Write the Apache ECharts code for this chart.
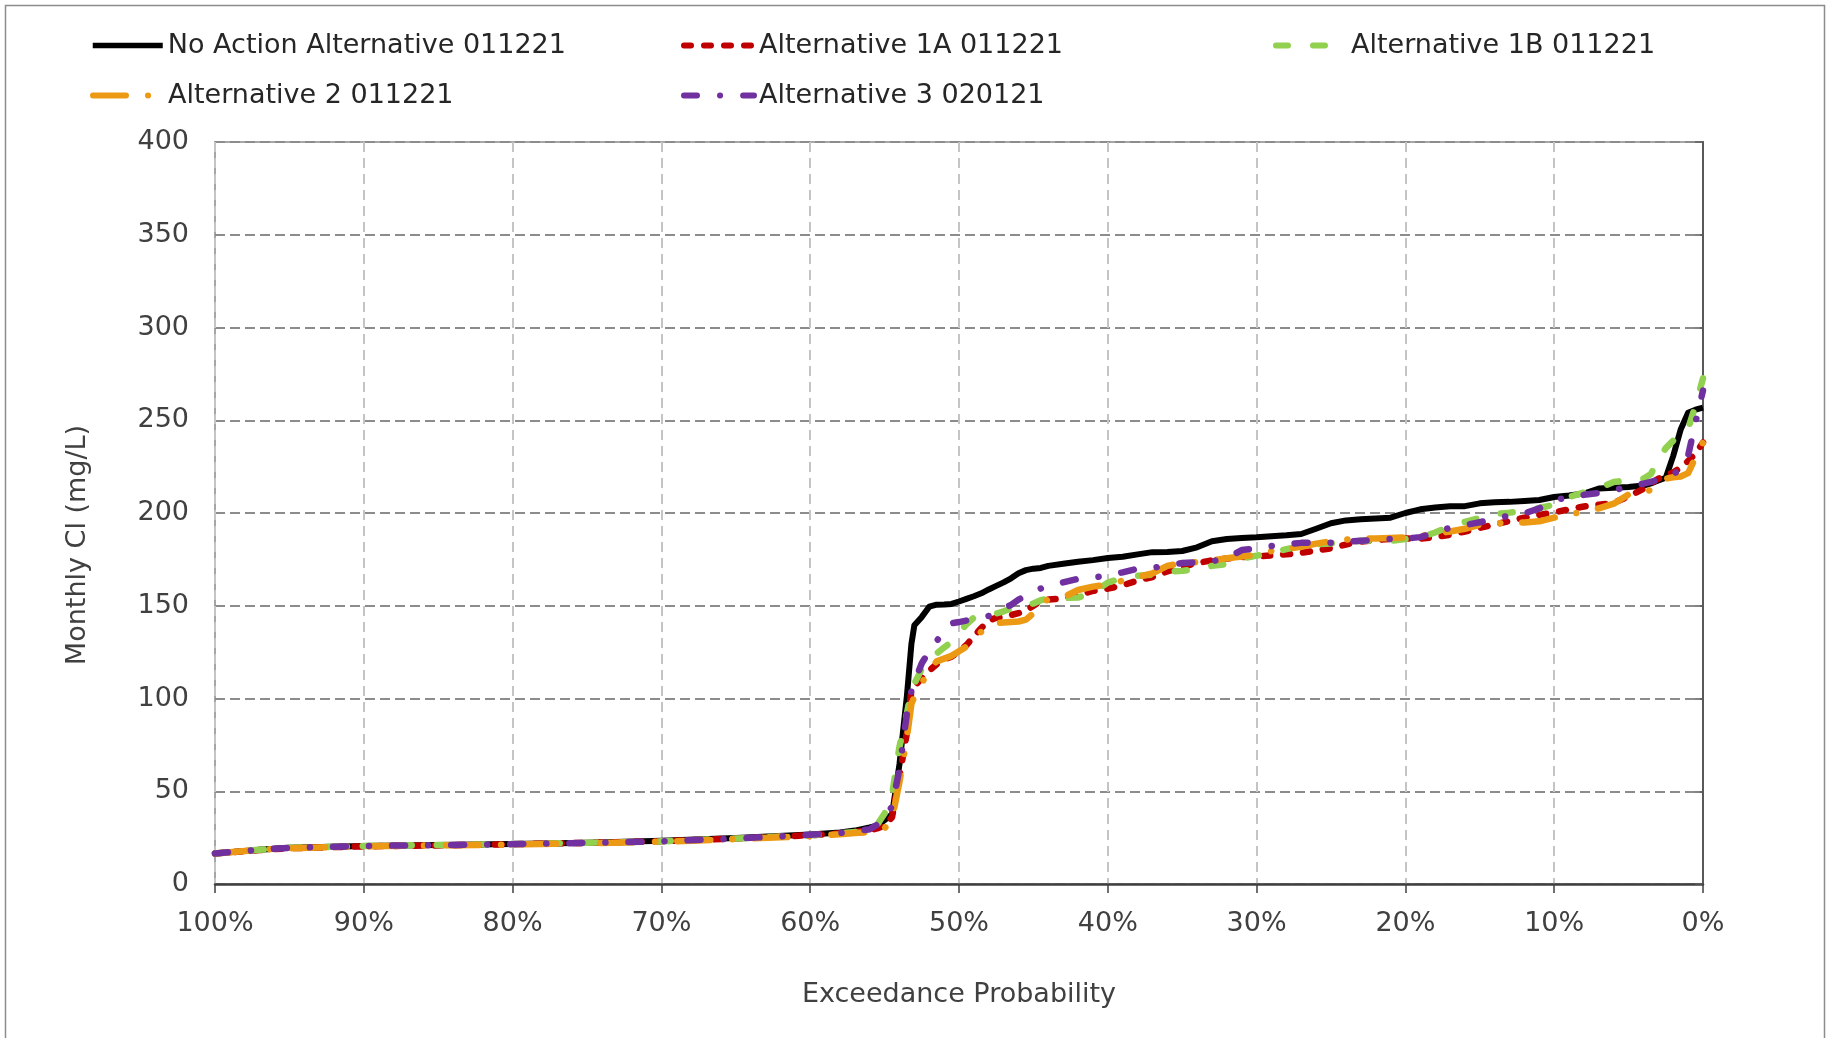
<!DOCTYPE html>
<html>
<head>
<meta charset="utf-8">
<script src="https://cdn.jsdelivr.net/npm/echarts@6/dist/echarts.min.js"></script>
<style>
html,body{margin:0;padding:0;background:#fff;}
#chart{width:1834px;height:1038px;}
</style>
</head>
<body>
<div id="chart"></div>
<script>
const seriesNames = ['No Action Alternative 011221','Alternative 1A 011221','Alternative 1B 011221','Alternative 2 011221','Alternative 3 020121'];
const xTickLabels = ['0%','10%','20%','30%','40%','50%','60%','70%','80%','90%','100%'];
const probability = [100, 97, 95, 90, 85, 80, 75, 70, 65, 60,
  58, 57, 56, 55.5, 55, 54.5, 54, 53.5, 53.2, 53,
  52.5, 52, 51.5, 51, 50.5, 50, 49.5, 49, 48.5, 48,
  47.5, 47, 46.5, 46, 45.5, 45, 44.5, 44,
  43, 42, 41, 40, 39, 38, 37, 36, 35, 34,
  33, 32, 31, 30, 29, 28, 27, 26, 25, 24,
  23, 22, 21, 20, 19, 18, 17, 16, 15, 14,
  13, 12, 11, 10, 9, 8, 7, 6, 5, 4,
  3.5, 3, 2.5, 2, 1.5, 1, 0.5, 0];
const noAction = [16.5, 18.5, 19.5, 20.5, 21, 21.6, 22.3, 23.3, 24.8, 26.7,
  27.8, 28.8, 30.5, 31.5, 34.5, 37.5, 64.6, 101.5, 129.3, 139.5,
  144, 149.5, 150.6, 150.7, 151, 152.3, 153.7, 155.1, 156.7, 158.8,
  160.7, 162.6, 164.8, 167.5, 169.2, 170, 170.4, 171.5,
  172.6, 173.7, 174.6, 175.7, 176.4, 177.7, 178.9, 179, 179.5, 181.5,
  184.8, 186, 186.5, 186.9, 187.5, 188, 188.7, 191.5, 194.5, 196,
  196.6, 197, 197.5, 200, 202, 203, 203.7, 203.7, 205.2, 205.8,
  206, 206.5, 207, 208.6, 209.4, 210.5, 213.2, 213.6, 214, 214.8,
  216, 217.5, 219, 230.8, 245, 254, 255.7, 256.8];
const alt1A = [16.5, 18.3, 19.3, 20.3, 20.8, 21.4, 22.2, 23, 24.5, 26.3,
  27.3, 28, 29, 30, 31.5, 36, 58, 81.6, 104.5, 106.5,
  111, 115, 118.5, 121, 122.5, 125.5, 128.8, 133.5, 138, 142,
  143.5, 144, 145, 146, 147.5, 150, 152.5, 153.4,
  153.8, 155.5, 158, 159.2, 161, 163.6, 165.5, 168.5, 171, 173,
  174.5, 175.5, 176.2, 176.7, 177.1, 177.7, 178.6, 179.7, 181, 183,
  184.6, 185.4, 186, 186.2, 186.2, 187, 188.3, 190, 192, 193.8,
  195.7, 197.5, 199, 200.3, 202, 203.5, 204.5, 205.4, 209, 213,
  216, 218.5, 220.3, 221.8, 224.5, 228, 232, 238];
const alt1B = [16.5, 18.5, 19.5, 20.5, 21, 21.5, 22.2, 23, 24.5, 26.3,
  27.3, 28, 29.5, 32, 38, 48, 74, 92, 104.5, 108,
  116, 120.5, 124.3, 127.5, 130.5, 135.5, 140, 143.6, 144.5, 145.2,
  145.8, 147, 148.5, 149.5, 150.5, 151.2, 153, 153.8,
  154.2, 154.4, 157, 162.5, 165, 166.1, 166.8, 168.5, 168.8, 170,
  171.5, 172.5, 175.5, 177, 178.5, 180.5, 182.2, 183.2, 183.6, 184.2,
  185, 185, 185, 186, 186.8, 189.5, 192.8, 195.2, 197.4, 199.5,
  200.2, 201.3, 202.7, 204.5, 208.7, 211, 213.5, 216.7, 217.8, 218.5,
  221, 229, 235, 239, 241, 245.5, 258, 272.6];
const alt2 = [16.5, 18.5, 19.3, 20.3, 20.8, 21.3, 22, 22.8, 24.2, 25.8,
  26.8, 27.5, 28, 28.5, 30, 35, 55, 79, 97, 101,
  108, 116, 120, 121.5, 123, 125.5, 128, 132, 136, 139.5,
  140.7, 141, 141.3, 141.5, 142.5, 146, 151, 153.5,
  154.5, 158.5, 160.3, 161.5, 163.5, 165.5, 167.5, 171.5, 173, 173.5,
  174.4, 175.6, 176.6, 177.5, 179.5, 180.7, 181.8, 183.5, 184.8, 185.6,
  186.2, 186.2, 186.5, 186.8, 187.6, 188.8, 190, 191.5, 193.7, 194.4,
  194.7, 194.9, 195.5, 197.5, 199.2, 200.8, 202.5, 205, 210, 211.5,
  212.3, 215, 218.5, 219.3, 219.7, 221.5, 230, 238];
const alt3 = [16.5, 18.5, 19.5, 20.5, 21, 21.5, 22.2, 23, 24.5, 26.5,
  27.5, 28.3, 29.5, 32, 35, 42, 62, 92, 104, 109,
  119, 125.5, 131, 136, 140.5, 141.2, 142, 142.7, 143.3, 144.5,
  146.3, 148.5, 150.5, 153.3, 155.5, 157.6, 159.3, 160.6,
  162.6, 164.5, 165.2, 166.3, 168, 170, 170.3, 172, 173, 173.4,
  174, 175.5, 180, 181, 182.2, 183.2, 183.9, 183.9, 184, 184.4,
  185, 185.5, 186, 186.2, 187, 189.5, 192, 193.5, 195, 197.2,
  198.5, 199.8, 202.5, 206.7, 208.8, 209.8, 210.8, 212.2, 214.5, 215.8,
  216.8, 218, 219.5, 221, 223.5, 231, 249, 266];

const valueSets = [noAction, alt1A, alt1B, alt2, alt3];
const colors = ['#000000', '#C00000', '#92D050', '#EC9A14', '#7030A0'];
const dashes = ['solid', [7, 13], [12, 25], [33, 22, 0.1, 22], [13, 23, 0.1, 23]];
const widths = [6, 6.5, 6.5, 6.5, 6.5];
const legendWidths = [5.5, 6, 6, 6, 6];

const FONT = 'DejaVu Sans';
const chart = echarts.init(document.getElementById('chart'));

const series = seriesNames.map((name, i) => ({
  name: name,
  type: 'line',
  symbol: 'none',
  showSymbol: false,
  data: probability.map((p, k) => [p, valueSets[i][k]]),
  lineStyle: { color: colors[i], width: widths[i], type: dashes[i], cap: i === 0 ? 'butt' : 'round', join: 'round' },
  itemStyle: { color: colors[i] },
  emphasis: { disabled: true },
  z: 2 + i
}));

const legendPos = [[90, 32], [681, 32], [1273, 32], [90, 82], [681, 82]];
const legends = seriesNames.map((name, i) => ({
  data: [name],
  left: legendPos[i][0],
  top: legendPos[i][1],
  padding: 0,
  itemWidth: 70,
  itemHeight: 14,
  itemStyle: { opacity: 0, borderWidth: 0 },
  lineStyle: { color: colors[i], width: legendWidths[i], type: dashes[i], cap: i === 0 ? 'butt' : 'round', opacity: 1 },
  textStyle: { fontFamily: FONT, fontSize: 27, color: '#262626' },
  selectedMode: false
}));

chart.setOption({
  animation: false,
  backgroundColor: '#ffffff',
  legend: legends,
  graphic: [{
    type: 'rect', shape: { x: 5.5, y: 5.5, width: 1819, height: 1045 },
    style: { fill: 'none', stroke: '#8c8c8c', lineWidth: 1.5 }, silent: true, z: -10
  }],
  grid: { left: 215, top: 142, right: 131, bottom: 154, show: true, borderColor: '#a6a6a6', borderWidth: 2, backgroundColor: 'transparent' },
  xAxis: {
    type: 'value', min: 0, max: 100, interval: 10, inverse: true,
    name: 'Exceedance Probability', nameLocation: 'middle', nameGap: 97,
    nameTextStyle: { fontFamily: FONT, fontSize: 27, color: '#404040' },
    axisLine: { show: true, lineStyle: { color: '#404040', width: 2.5 } },
    axisTick: { show: true, length: 9, lineStyle: { color: '#404040', width: 1.5 } },
    axisLabel: { margin: 26, fontFamily: FONT, fontSize: 27, color: '#404040',
      formatter: v => xTickLabels[Math.round(v / 10)] },
    splitLine: { show: true, lineStyle: { color: '#c4c4c4', width: 2, type: [10, 6] } }
  },
  yAxis: {
    type: 'value', min: 0, max: 400, interval: 50,
    name: 'Monthly Cl (mg/L)', nameLocation: 'middle', nameGap: 124,
    nameTextStyle: { fontFamily: FONT, fontSize: 27, color: '#404040', padding: [0, 64, 0, 0] },
    axisLine: { show: true, lineStyle: { color: '#595959', width: 2 } },
    axisTick: { show: true, length: 8, lineStyle: { color: '#595959', width: 1.5 } },
    axisLabel: { margin: 26, fontFamily: FONT, fontSize: 27, color: '#404040' },
    splitLine: { show: true, lineStyle: { color: '#8c8c8c', width: 2, type: [10, 5] } }
  },
  series: series
});
</script>
</body>
</html>
